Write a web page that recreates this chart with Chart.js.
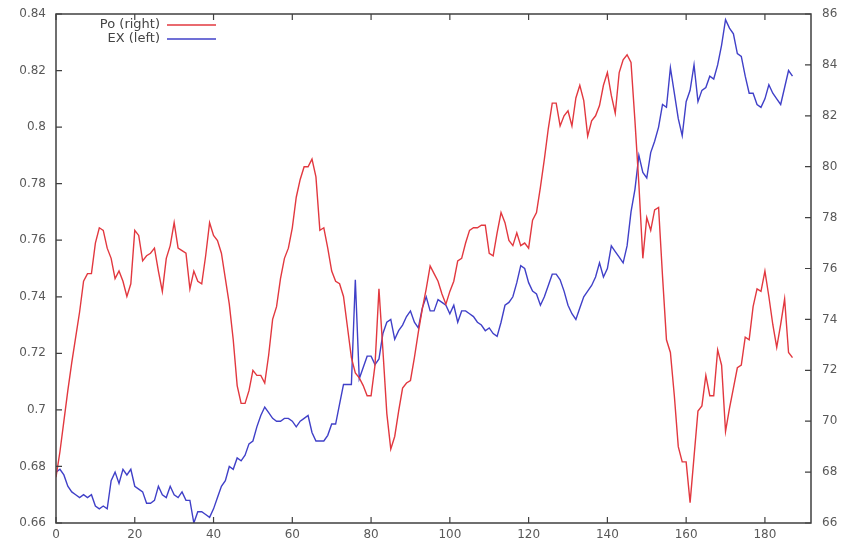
<!DOCTYPE html>
<html>
<head>
<meta charset="utf-8">
<script src="https://cdn.jsdelivr.net/npm/chart.js@4.4.1/dist/chart.umd.min.js"></script>
<style>
html,body{margin:0;padding:0;background:#fff;}
#wrap{width:850px;height:544px;}
</style>
</head>
<body>
<div id="wrap"><canvas id="c" width="850" height="544"></canvas></div>
<script>
// ---- data ----
const seriesNames = ["Po (right)", "EX (left)"];
const xTicks = [0, 20, 40, 60, 80, 100, 120, 140, 160, 180];
const leftTicks = [0.66, 0.68, 0.70, 0.72, 0.74, 0.76, 0.78, 0.80, 0.82, 0.84];
const rightTicks = [66, 68, 70, 72, 74, 76, 78, 80, 82, 84, 86];

// Po (right axis), one value per step 0..187
const po = [
67.8,68.8,70.0,71.2,72.3,73.3,74.3,75.5,75.8,75.8,
77.0,77.6,77.5,76.8,76.4,75.6,75.9,75.5,74.9,75.4,
77.5,77.3,76.3,76.5,76.6,76.8,75.9,75.1,76.4,76.9,
77.8,76.8,76.7,76.6,75.2,75.9,75.5,75.4,76.5,77.8,
77.3,77.1,76.6,75.6,74.6,73.2,71.4,70.7,70.7,71.2,
72.0,71.8,71.8,71.5,72.6,74.0,74.5,75.6,76.4,76.8,
77.6,78.8,79.5,80.0,80.0,80.3,79.6,77.5,77.6,76.8,
75.9,75.5,75.4,74.9,73.7,72.5,71.9,71.7,71.4,71.0,
71.0,72.2,75.2,72.8,70.3,68.9,69.4,70.4,71.3,71.5,
71.6,72.5,73.5,74.4,75.2,76.1,75.8,75.5,75.0,74.6,
75.1,75.5,76.3,76.4,77.0,77.5,77.6,77.6,77.7,77.7,
76.6,76.5,77.4,78.2,77.8,77.1,76.9,77.4,76.9,77.0,
76.8,77.9,78.2,79.2,80.3,81.5,82.5,82.5,81.6,82.0,
82.2,81.6,82.7,83.2,82.6,81.2,81.8,82.0,82.4,83.2,
83.7,82.8,82.1,83.7,84.2,84.4,84.1,81.8,79.3,76.4,
78.0,77.5,78.3,78.4,75.7,73.2,72.7,71.0,69.0,68.4,
68.4,66.8,68.6,70.4,70.6,71.8,71.0,71.0,72.8,72.2,
69.6,70.5,71.3,72.1,72.2,73.3,73.2,74.5,75.2,75.1,
75.9,74.9,73.8,72.9,73.8,74.8,72.7,72.5
];

// EX (left axis), one value per step 0..187
const ex = [
0.678,0.679,0.677,0.673,0.671,0.670,0.669,0.670,0.669,0.670,
0.666,0.665,0.666,0.665,0.675,0.678,0.674,0.679,0.677,0.679,
0.673,0.672,0.671,0.667,0.667,0.668,0.673,0.670,0.669,0.673,
0.670,0.669,0.671,0.668,0.668,0.660,0.664,0.664,0.663,0.662,
0.665,0.669,0.673,0.675,0.680,0.679,0.683,0.682,0.684,0.688,
0.689,0.694,0.698,0.701,0.699,0.697,0.696,0.696,0.697,0.697,
0.696,0.694,0.696,0.697,0.698,0.692,0.689,0.689,0.689,0.691,
0.695,0.695,0.702,0.709,0.709,0.709,0.746,0.711,0.715,0.719,
0.719,0.716,0.718,0.727,0.731,0.732,0.725,0.728,0.730,0.733,
0.735,0.731,0.729,0.736,0.740,0.735,0.735,0.739,0.738,0.737,
0.734,0.737,0.731,0.735,0.735,0.734,0.733,0.731,0.730,0.728,
0.729,0.727,0.726,0.731,0.737,0.738,0.740,0.745,0.751,0.750,
0.745,0.742,0.741,0.737,0.740,0.744,0.748,0.748,0.746,0.742,
0.737,0.734,0.732,0.736,0.740,0.742,0.744,0.747,0.752,0.747,
0.750,0.758,0.756,0.754,0.752,0.758,0.770,0.778,0.790,0.784,
0.782,0.791,0.795,0.800,0.808,0.807,0.821,0.812,0.803,0.797,
0.809,0.813,0.822,0.809,0.813,0.814,0.818,0.817,0.822,0.829,
0.838,0.835,0.833,0.826,0.825,0.818,0.812,0.812,0.808,0.807,
0.810,0.815,0.812,0.810,0.808,0.814,0.820,0.818
];

const RED = "#e2383f";
const BLUE = "#4040c8";
const AXIS = "#404040";
const LABEL = "#595959";
const FONT = "'DejaVu Sans', sans-serif";

function setTicks(arr) {
  return function (scale) { scale.ticks = arr.map(v => ({ value: v })); };
}

const frame = {
  id: "frame",
  afterDatasetsDraw(chart) {
    const ctx = chart.ctx;
    const a = chart.chartArea;
    const sx = chart.scales.x, sl = chart.scales.yL, sr = chart.scales.yR;
    const L = a.left, R = a.right, T = a.top, B = a.bottom;
    ctx.save();
    ctx.strokeStyle = AXIS;
    ctx.lineWidth = 1.5;
    ctx.beginPath();
    ctx.moveTo(L, T); ctx.lineTo(R, T); ctx.lineTo(R, B); ctx.lineTo(L, B); ctx.closePath();
    ctx.stroke();
    const TL = 6;
    ctx.lineWidth = 1.2;
    ctx.beginPath();
    for (const v of xTicks) {
      const x = sx.getPixelForValue(v);
      ctx.moveTo(x, B); ctx.lineTo(x, B - TL);
      ctx.moveTo(x, T); ctx.lineTo(x, T + TL);
    }
    for (const v of leftTicks) {
      const y = sl.getPixelForValue(v);
      ctx.moveTo(L, y); ctx.lineTo(L + TL, y);
    }
    for (const v of rightTicks) {
      const y = sr.getPixelForValue(v);
      ctx.moveTo(R, y); ctx.lineTo(R - TL, y);
    }
    ctx.stroke();
    ctx.restore();
  },
  afterDraw(chart) {
    const ctx = chart.ctx;
    ctx.save();
    ctx.font = "13px " + FONT;
    ctx.textAlign = "right";
    ctx.textBaseline = "middle";
    chart.data.datasets.forEach((d, i) => {
      const y = 25 + i * 14;
      ctx.fillStyle = "#444";
      ctx.fillText(d.label, 160, y);
      ctx.strokeStyle = d.borderColor;
      ctx.lineWidth = 1.5;
      ctx.beginPath();
      ctx.moveTo(167, y); ctx.lineTo(216, y);
      ctx.stroke();
    });
    ctx.restore();
  }
};

new Chart(document.getElementById("c"), {
  type: "line",
  data: {
    datasets: [
      { label: seriesNames[0], data: po.map((v, i) => ({ x: i, y: v })), yAxisID: "yR",
        borderColor: RED, borderWidth: 1.4, pointRadius: 0, tension: 0, fill: false },
      { label: seriesNames[1], data: ex.map((v, i) => ({ x: i, y: v })), yAxisID: "yL",
        borderColor: BLUE, borderWidth: 1.4, pointRadius: 0, tension: 0, fill: false }
    ]
  },
  options: {
    responsive: false,
    animation: false,
    devicePixelRatio: 1,
    layout: { padding: { top: 14, left: 0, right: 0, bottom: 0 } },
    plugins: { legend: { display: false }, tooltip: { enabled: false } },
    scales: {
      x: {
        type: "linear", min: 0, max: 191.7,
        afterBuildTicks: setTicks(xTicks),
        afterFit(s) { s.height = 21; s.paddingLeft = 0; s.paddingRight = 0; },
        grid: { display: false, drawTicks: false }, border: { display: false },
        ticks: { padding: 5, color: LABEL, font: { family: FONT, size: 12 }, maxRotation: 0, autoSkip: false,
          callback: v => String(v) }
      },
      yL: {
        type: "linear", position: "left", min: 0.66, max: 0.84,
        afterBuildTicks: setTicks(leftTicks),
        afterFit(s) { s.width = 56; s.paddingTop = 0; s.paddingBottom = 0; },
        grid: { display: false, drawTicks: false }, border: { display: false },
        ticks: { padding: 10, color: LABEL, font: { family: FONT, size: 12 }, autoSkip: false,
          callback: v => String(+v.toFixed(2)) }
      },
      yR: {
        type: "linear", position: "right", min: 66, max: 86,
        afterBuildTicks: setTicks(rightTicks),
        afterFit(s) { s.width = 39; s.paddingTop = 0; s.paddingBottom = 0; },
        grid: { display: false, drawTicks: false }, border: { display: false },
        ticks: { padding: 11, color: LABEL, font: { family: FONT, size: 12 }, autoSkip: false,
          callback: v => String(v) }
      }
    }
  },
  plugins: [frame]
});
</script>
</body>
</html>
